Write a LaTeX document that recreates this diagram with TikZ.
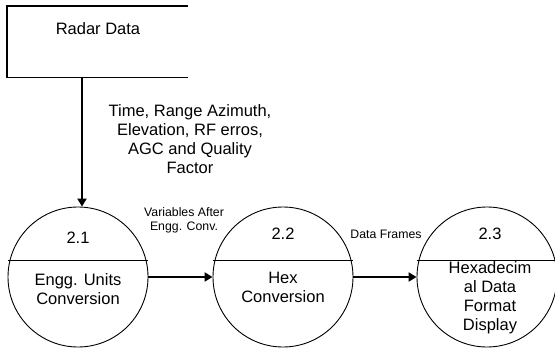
\documentclass[tikz,border=0pt]{standalone}
\usepackage{fontspec}
\setmainfont{Liberation Sans}
\usetikzlibrary{arrows.meta}
\tikzset{
  proc/.style={circle, draw, line width=0.9pt, minimum size=140pt, inner sep=0pt},
  flow/.style={line width=2.4pt, -{Triangle[length=8pt,width=9pt]}},
  big/.style={font=\fontsize{16.5}{19}\selectfont, align=center, inner sep=0pt},
  small/.style={font=\fontsize{12.3}{14}\selectfont, align=center, inner sep=0pt},
}
\begin{document}
\begin{tikzpicture}[x=1pt,y=-1pt]
\useasboundingbox (0,0) rectangle (555,349);
% external entity
\node[minimum width=181pt, minimum height=71pt, inner sep=0pt] (radar) at (97.5,41.5) {};
\draw[line width=1.4pt] (radar.north east) -- (radar.north west) -- (radar.south west) -- (radar.south east);
\node[big] (radartxt) at (98,29) {Radar Data};
% processes
\node[proc] (p1) at (78,277) {};
\node[proc] (p2) at (283,277) {};
\node[proc] (p3) at (487,277) {};
\foreach \p in {p1,p2,p3}{
  \draw[line width=0.9pt] ([yshift=17pt]\p.west) -- ([yshift=17pt]\p.east);
}
\node[big] (n1) at (78,238) {2.1};
\node[big] (n2) at (283,234) {2.2};
\node[big] (n3) at (490,234) {2.3};
\node[big] (t1) at (78,289) {Engg. Units\\Conversion};
\node[big] (t2) at (283,287) {Hex\\Conversion};
\node[big] (t3) at (490,298) {Hexadecim\\al Data\\Format\\Display};
% flows
\coordinate (s1) at (82,77);
\draw[flow] (s1) -- (s1 |- p1.north);
\node[big] (lab1) at (190,139) {Time, Range Azimuth,\\Elevation, RF erros,\\AGC and Quality\\Factor};
\draw[flow] (p1.east) -- (p2.west);
\node[small] (lab2) at (184,220) {Variables After\\Engg. Conv.};
\draw[flow] (p2.east) -- (p3.west);
\node[small] (lab3) at (386,234) {Data Frames};
\end{tikzpicture}
\end{document}
